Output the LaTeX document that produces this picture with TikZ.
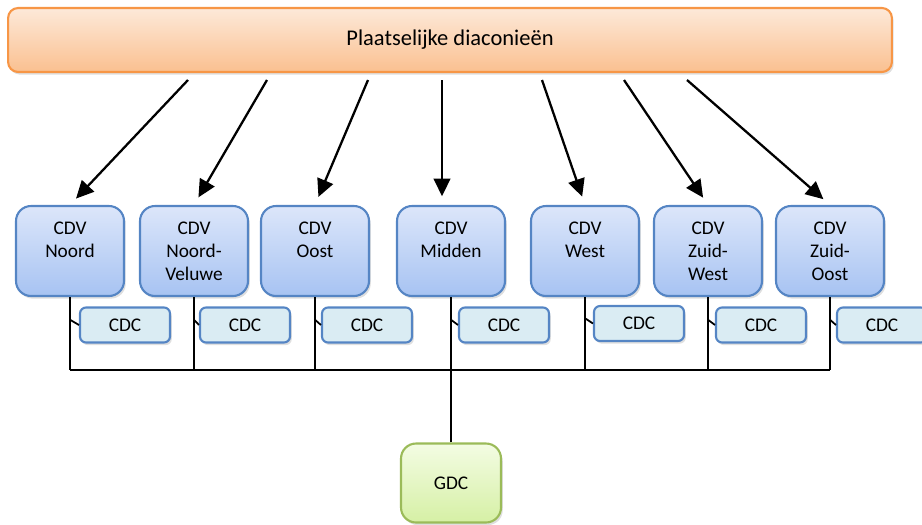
\documentclass[tikz,border=0pt]{standalone}
\usepackage{fontspec}
\setmainfont{Carlito}
\usetikzlibrary{arrows.meta,shadows}

\definecolor{oranjerand}{HTML}{F79646}
\definecolor{oranjeboven}{HTML}{FDE9D9}
\definecolor{oranjeonder}{HTML}{FAC090}
\definecolor{blauwrand}{HTML}{5585C4}
\definecolor{blauwboven}{HTML}{DCE6FA}
\definecolor{blauwonder}{HTML}{A7C3F2}
\definecolor{cdcvul}{HTML}{DAECF3}
\definecolor{groenrand}{HTML}{9BBB59}
\definecolor{groenboven}{HTML}{F3FCE3}
\definecolor{groenonder}{HTML}{D6F0A5}

\tikzset{
  schaduw/.style={drop shadow={opacity=0.25, shadow xshift=1pt, shadow yshift=-1.5pt}},
  balk/.style={draw=oranjerand, line width=1.2pt, rounded corners=0.2cm, top color=oranjeboven, bottom color=oranjeonder, minimum width=17.68cm, minimum height=1.28cm, font=\fontsize{12.8}{15}\selectfont, schaduw},
  cdv/.style={draw=blauwrand, line width=1.2pt, rounded corners=0.3cm, top color=blauwboven, bottom color=blauwonder, minimum width=2.16cm, minimum height=1.8cm, align=center, font=\fontsize{11}{13}\selectfont, schaduw},
  cdc/.style={draw=blauwrand, line width=1.2pt, rounded corners=0.12cm, fill=cdcvul, minimum width=1.8cm, minimum height=0.7cm, font=\fontsize{11}{13}\selectfont, schaduw},
  gdc/.style={draw=groenrand, line width=1.2pt, rounded corners=0.3cm, top color=groenboven, bottom color=groenonder, minimum width=2cm, minimum height=1.58cm, font=\fontsize{11}{13}\selectfont, schaduw},
  pijl/.style={line width=1.3pt, -{Triangle[length=10pt,width=9.5pt]}, shorten >=5pt},
  lijn/.style={line width=1.5pt},
  tik/.style={line width=1pt}
}

\begin{document}
\begin{tikzpicture}[x=0.02cm, y=-0.02cm]
\useasboundingbox (0,0) rectangle (922,524);

% bovenste balk
\node[balk] (diac) at (450,40) {Plaatselijke diaconieën};

% de CDV's
\node[cdv] (noord) at (70,251) {CDV\\Noord\\~};
\node[cdv] (noordveluwe) at (194,251) {CDV\\Noord-\\Veluwe};
\node[cdv] (oost) at (315,251) {CDV\\Oost\\~};
\node[cdv] (midden) at (451,251) {CDV\\Midden\\~};
\node[cdv] (west) at (585,251) {CDV\\West\\~};
\node[cdv] (zuidwest) at (708,251) {CDV\\Zuid-\\West};
\node[cdv] (zuidoost) at (830,251) {CDV\\Zuid-\\Oost};

% de CDC's
\node[cdc] (cdc1) at (125,325) {CDC};
\node[cdc] (cdc2) at (245,325) {CDC};
\node[cdc] (cdc3) at (367,325) {CDC};
\node[cdc] (cdc4) at (504,325) {CDC};
\node[cdc] (cdc5) at (639,323.5) {CDC};
\node[cdc] (cdc6) at (761,325) {CDC};
\node[cdc] (cdc7) at (882,325) {CDC};

\node[gdc] (gdc) at (451,483) {GDC};

% pijlen vanuit de balk
\coordinate (b1) at (188,80);
\coordinate (b2) at (267,80);
\coordinate (b3) at (368,80);
\coordinate (b4) at (442,80);
\coordinate (b5) at (542,80);
\coordinate (b6) at (624,80);
\coordinate (b7) at (687,80);
\draw[pijl] (b1) -- (noord.north);
\draw[pijl] (b2) -- (noordveluwe.north);
\draw[pijl] (b3) -- (oost.north);
\draw[pijl] (b4) -- (b4 |- midden.north);
\draw[pijl] (b5) -- (west.north);
\draw[pijl] (b6) -- (zuidwest.north);
\draw[pijl] (b7) -- (zuidoost.north);

% verbindingen naar de GDC
\coordinate (bus) at (0,370);
\foreach \n/\c in {noord/cdc1, noordveluwe/cdc2, oost/cdc3, midden/cdc4, west/cdc5, zuidwest/cdc6, zuidoost/cdc7} {
  \draw[lijn] (\n.south) -- (\n.south |- bus);
  \draw[tik] ([yshift=3pt]\n.south |- \c.west) -- (\c.west);
}
\draw[lijn] (noord.south |- bus) -- (zuidoost.south |- bus);
\draw[lijn] (gdc.north) -- (gdc.north |- bus);

\end{tikzpicture}
\end{document}
